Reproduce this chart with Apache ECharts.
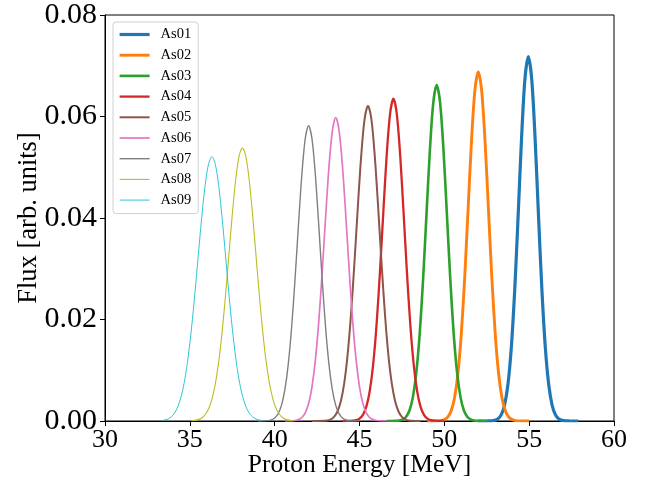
<!DOCTYPE html>
<html>
<head>
<meta charset="utf-8">
<script src="https://cdn.jsdelivr.net/npm/echarts@6/dist/echarts.min.js"></script>
<style>html,body{margin:0;padding:0;background:#fff}#c{width:654px;height:484px}</style>
</head>
<body>
<div id="c"></div>
<script>
const seriesNames = ["As01","As02","As03","As04","As05","As06","As07","As08","As09"];
const colors = ["#1f77b4","#ff7f0e","#2ca02c","#d62728","#8c564b","#e377c2","#7f7f7f","#bcbd22","#17becf"];
const lineWidths = [3.2, 2.9, 2.6, 2.3, 2.0, 1.7, 1.4, 1.1, 0.9];
const xTicks = [30, 35, 40, 45, 50, 55, 60];
const yTicks = [0.00, 0.02, 0.04, 0.06, 0.08];

const energyAs01 = [52.0,52.55,52.75,52.95,53.15,53.35,53.55,53.75,53.95,54.15,54.35,54.55,54.75,54.95,55.15,55.35,55.55,55.75,55.95,56.15,56.35,56.55,56.75,56.95,57.15,57.35,57.9];
const fluxAs01 = [0,0.00001,0.00003,0.00012,0.00041,0.00121,0.00315,0.00723,0.01458,0.02588,0.04044,0.05563,0.06736,0.0718,0.06736,0.05563,0.04044,0.02588,0.01458,0.00723,0.00315,0.00121,0.00041,0.00012,0.00003,0.00001,0];

const energyAs02 = [49.0,49.6,49.8,50.0,50.2,50.4,50.6,50.8,51.0,51.2,51.4,51.6,51.8,52.0,52.2,52.4,52.6,52.8,53.0,53.2,53.4,53.6,53.8,54.0,54.2,54.4,55.0];
const fluxAs02 = [0,0.00002,0.00008,0.00027,0.00076,0.00197,0.00452,0.00931,0.01716,0.02828,0.04173,0.05509,0.06508,0.0688,0.06508,0.05509,0.04173,0.02828,0.01716,0.00931,0.00452,0.00197,0.00076,0.00027,0.00008,0.00002,0];

const energyAs03 = [46.6,47.15,47.35,47.55,47.75,47.95,48.15,48.35,48.55,48.75,48.95,49.15,49.35,49.55,49.75,49.95,50.15,50.35,50.55,50.75,50.95,51.15,51.35,51.55,51.75,51.95,52.5];
const fluxAs03 = [0,0.00003,0.0001,0.00031,0.00085,0.00212,0.00475,0.00956,0.01727,0.02802,0.04081,0.05339,0.06274,0.0662,0.06274,0.05339,0.04081,0.02802,0.01727,0.00956,0.00475,0.00212,0.00085,0.00031,0.0001,0.00003,0];

const energyAs04 = [44.0,44.6,44.8,45.0,45.2,45.4,45.6,45.8,46.0,46.2,46.4,46.6,46.8,47.0,47.2,47.4,47.6,47.8,48.0,48.2,48.4,48.6,48.8,49.0,49.2,49.4,50.0];
const fluxAs04 = [0,0.00006,0.00017,0.00048,0.00122,0.00279,0.00581,0.01095,0.01873,0.02907,0.04092,0.05224,0.06047,0.0635,0.06047,0.05224,0.04092,0.02907,0.01873,0.01095,0.00581,0.00279,0.00122,0.00048,0.00017,0.00006,0];

const energyAs05 = [42.2,43.1,43.3,43.5,43.7,43.9,44.1,44.3,44.5,44.7,44.9,45.1,45.3,45.5,45.7,45.9,46.1,46.3,46.5,46.7,46.9,47.1,47.3,47.5,47.7,47.9,48.6];
const fluxAs05 = [0,0.00012,0.00033,0.00082,0.00187,0.0039,0.00746,0.01309,0.02106,0.03109,0.04208,0.05223,0.05947,0.0621,0.05947,0.05223,0.04208,0.03109,0.02106,0.01309,0.00746,0.0039,0.00187,0.00082,0.00033,0.00012,0];

const energyAs06 = [40.6,41.2,41.4,41.6,41.8,42.0,42.2,42.4,42.6,42.8,43.0,43.2,43.4,43.6,43.8,44.0,44.2,44.4,44.6,44.8,45.0,45.2,45.4,45.6,45.8,46.0,46.6];
const fluxAs06 = [0,0.0001,0.00027,0.00069,0.00162,0.00345,0.00674,0.01203,0.01963,0.02932,0.04005,0.05004,0.05719,0.0598,0.05719,0.05004,0.04005,0.02932,0.01963,0.01203,0.00674,0.00345,0.00162,0.00069,0.00027,0.0001,0];

const energyAs07 = [39.0,39.6,39.8,40.0,40.2,40.4,40.6,40.8,41.0,41.2,41.4,41.6,41.8,42.0,42.2,42.4,42.6,42.8,43.0,43.2,43.4,43.6,43.8,44.0,44.2,44.4,45.0];
const fluxAs07 = [0,0.00008,0.00022,0.00059,0.00141,0.00308,0.00613,0.01115,0.01847,0.02792,0.0385,0.04843,0.05559,0.0582,0.05559,0.04843,0.0385,0.02792,0.01847,0.01115,0.00613,0.00308,0.00141,0.00059,0.00022,0.00008,0];

const energyAs08 = [35.1,35.3,35.5,35.7,35.9,36.1,36.3,36.5,36.7,36.9,37.1,37.3,37.5,37.7,37.9,38.1,38.3,38.5,38.7,38.9,39.1,39.3,39.5,39.7,39.9,40.1,40.3,40.5,40.7,40.9,41.1];
const fluxAs08 = [0.00005,0.00012,0.00027,0.0006,0.00123,0.00236,0.00428,0.00728,0.01164,0.01747,0.02463,0.03263,0.04061,0.04748,0.05214,0.0538,0.05214,0.04748,0.04061,0.03263,0.02463,0.01747,0.01164,0.00728,0.00428,0.00236,0.00123,0.0006,0.00027,0.00012,0.00005];

const energyAs09 = [33.3,33.5,33.7,33.9,34.1,34.3,34.5,34.7,34.9,35.1,35.3,35.5,35.7,35.9,36.1,36.3,36.5,36.7,36.9,37.1,37.3,37.5,37.7,37.9,38.1,38.3,38.5,38.7,38.9,39.1,39.3];
const fluxAs09 = [0.00008,0.00018,0.00039,0.0008,0.00155,0.00286,0.00496,0.00813,0.01256,0.01832,0.02521,0.03274,0.04012,0.04639,0.05061,0.0521,0.05061,0.04639,0.04012,0.03274,0.02521,0.01832,0.01256,0.00813,0.00496,0.00286,0.00155,0.0008,0.00039,0.00018,0.00008];

const energies = [energyAs01,energyAs02,energyAs03,energyAs04,energyAs05,energyAs06,energyAs07,energyAs08,energyAs09];
const fluxes = [fluxAs01,fluxAs02,fluxAs03,fluxAs04,fluxAs05,fluxAs06,fluxAs07,fluxAs08,fluxAs09];

const FONT = "'Liberation Serif','Times New Roman',serif";
const chart = echarts.init(document.getElementById('c'), null, {renderer:'canvas'});
chart.setOption({
  animation: false,
  backgroundColor: '#fff',
  grid: {left:105, right:40, top:13, bottom:63, show:true, borderColor:'#000', borderWidth:1, backgroundColor:'transparent'},
  legend: {
    orient:'vertical', left:113, top:22,
    itemWidth:30, itemHeight:14, itemGap:5.7,
    padding:[5,7,6,5],
    backgroundColor:'rgba(255,255,255,0.8)', borderColor:'#d0d0d0', borderWidth:1, borderRadius:3,
    itemStyle:{color:'rgba(0,0,0,0)', borderColor:'rgba(0,0,0,0)', borderWidth:0, opacity:0},
    textStyle:{fontFamily:FONT, fontSize:14.5, color:'#000', padding:[0,0,0,6]},
    data: seriesNames.map((n,i)=>({name:n, lineStyle:{width:lineWidths[i], color:colors[i]}}))
  },
  xAxis: {
    type:'value', min:xTicks[0], max:xTicks[xTicks.length-1], interval:5,
    name:'Proton Energy [MeV]', nameLocation:'middle', nameGap:31, nameMoveOverlap:false,
    nameTextStyle:{fontFamily:FONT, fontSize:25.5, color:'#000'},
    axisLine:{show:true, lineStyle:{color:'#000', width:1}},
    axisTick:{show:true, inside:false, length:5, lineStyle:{color:'#000'}},
    axisLabel:{fontFamily:FONT, fontSize:26, color:'#000', margin:6},
    splitLine:{show:false}
  },
  yAxis: {
    type:'value', min:yTicks[0], max:yTicks[yTicks.length-1], interval:0.02,
    name:'Flux [arb. units]', nameLocation:'middle', nameGap:62, nameMoveOverlap:false,
    nameTextStyle:{fontFamily:FONT, fontSize:26.5, color:'#000'},
    axisLine:{show:true, lineStyle:{color:'#000', width:1}},
    axisTick:{show:true, inside:false, length:5, lineStyle:{color:'#000'}},
    axisLabel:{fontFamily:FONT, fontSize:30, color:'#000', margin:8, formatter:v=>v.toFixed(2)},
    splitLine:{show:false}
  },
  series: seriesNames.map((n,i)=>({
    name:n, type:'line', symbol:'none', smooth:0.3,
    color:colors[i],
    lineStyle:{width:lineWidths[i], color:colors[i]},
    data: energies[i].map((e,j)=>[e, fluxes[i][j]])
  }))
});
</script>
</body>
</html>
